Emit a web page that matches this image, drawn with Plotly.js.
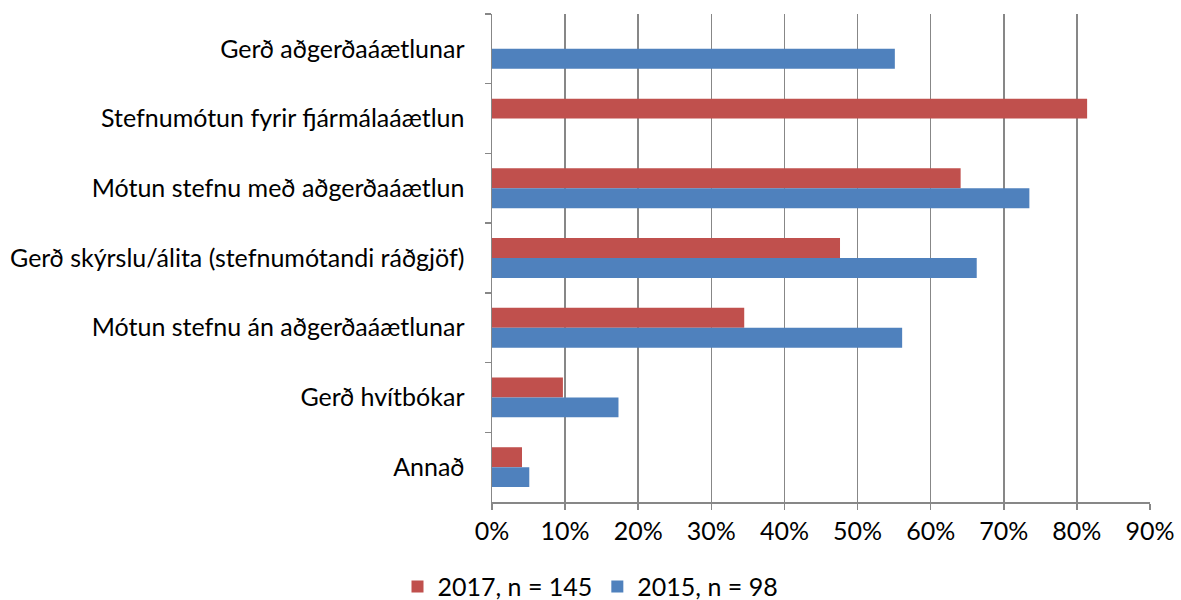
<!DOCTYPE html>
<html>
<head>
<meta charset="utf-8">
<script src="https://cdn.plot.ly/plotly-3.0.1.min.js"></script>
<style>html,body{margin:0;padding:0;background:#fff;}#chart{width:1181px;height:600px;}</style>
</head>
<body>
<div id="chart"></div>
<script>
var categories = [
  "Gerð aðgerðaáætlunar",
  "Stefnumótun fyrir fjármálaáætlun",
  "Mótun stefnu með aðgerðaáætlun",
  "Gerð skýrslu/álita (stefnumótandi ráðgjöf)",
  "Mótun stefnu án aðgerðaáætlunar",
  "Gerð hvítbókar",
  "Annað"
];
var values2017 = [null, 0.814, 0.641, 0.476, 0.345, 0.097, 0.041];
var values2015 = [0.551, null, 0.735, 0.663, 0.561, 0.173, 0.051];
var seriesNames = ["2017, n = 145", "2015, n = 98"];
var xTickVals = [0, 0.1, 0.2, 0.3, 0.4, 0.5, 0.6, 0.7, 0.8, 0.9];

var fontFam = "Lato, 'Open Sans', sans-serif";
var fs = 25;
var data = [
  {type: "bar", orientation: "h", name: seriesNames[0], y: categories, x: values2017,
   marker: {color: "#C0504D"}, hoverinfo: "x+y"},
  {type: "bar", orientation: "h", name: seriesNames[1], y: categories, x: values2015,
   marker: {color: "#4F81BD"}, hoverinfo: "x+y"}
];
var layout = {
  width: 1181, height: 600,
  margin: {l: 492, r: 31, t: 14, b: 98},
  paper_bgcolor: "#fff", plot_bgcolor: "#fff",
  barmode: "group", bargap: 0.4286, bargroupgap: 0,
  font: {family: fontFam, size: fs, color: "#000"},
  xaxis: {
    range: [0, 0.9], tickvals: xTickVals, tickformat: ".0%",
    showgrid: true, gridcolor: "#878787", gridwidth: 1.5,
    showline: true, linecolor: "#878787", linewidth: 1.5,
    ticks: "outside", ticklen: 6, tickcolor: "#878787", tickwidth: 1.5,
    zeroline: false, fixedrange: true,
    tickfont: {family: fontFam, size: fs, color: "#000"}
  },
  yaxis: {
    autorange: "reversed", type: "category",
    showgrid: false, zeroline: false,
    showline: true, linecolor: "#878787", linewidth: 1.5,
    ticks: "outside", tickson: "boundaries", ticklen: 6, tickcolor: "#878787", tickwidth: 1.5,
    ticklabelstandoff: 21,
    tickfont: {family: fontFam, size: fs, color: "#000"}
  },
  showlegend: true,
  legend: {orientation: "h", xref: "container", yref: "container", x: 0.5, xanchor: "center",
           y: 0.022, yanchor: "middle", font: {family: fontFam, size: fs, color: "#000"},
           itemwidth: 30, tracegroupgap: 0}
};
Plotly.newPlot("chart", data, layout, {displayModeBar: false, staticPlot: true});
</script>
</body>
</html>
